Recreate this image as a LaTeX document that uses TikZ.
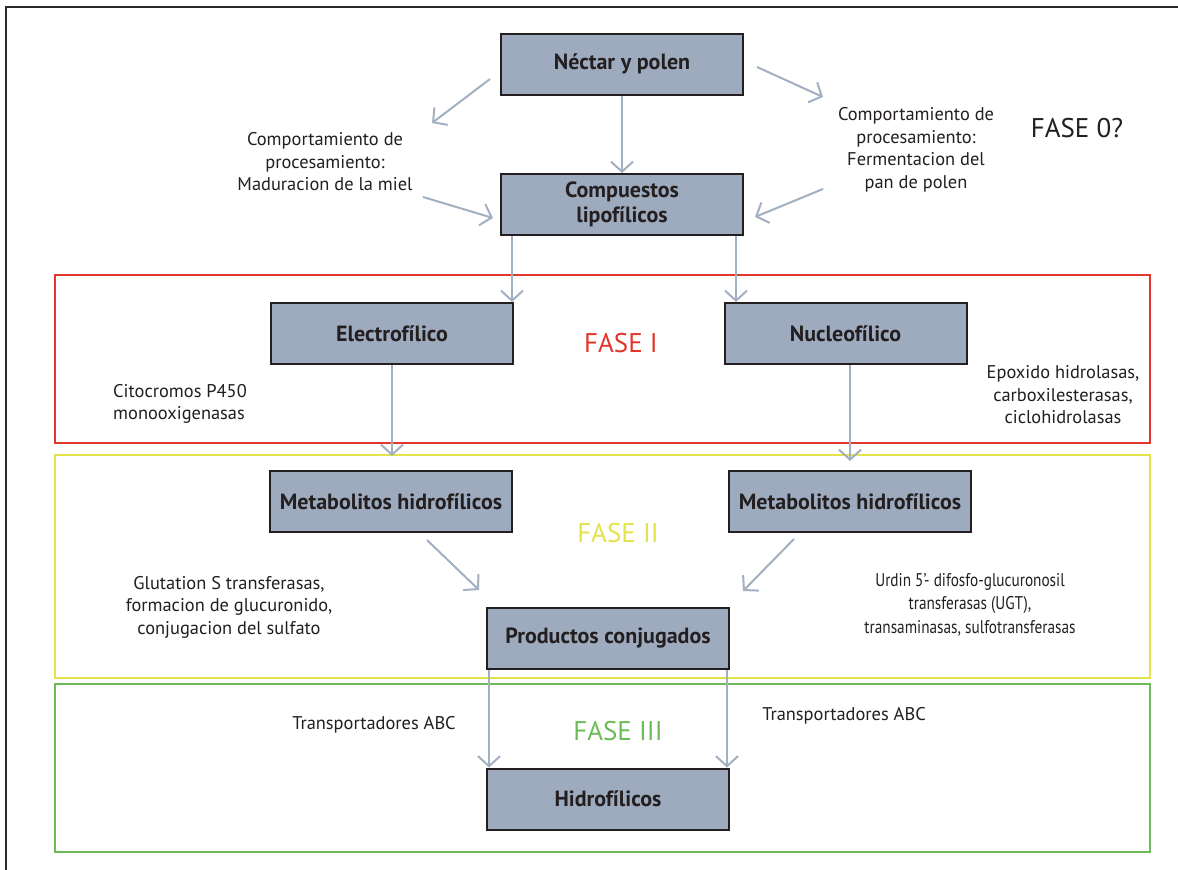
\documentclass[tikz,border=0pt]{standalone}
\usepackage{fontspec}
\setmainfont{PT Sans}
\usetikzlibrary{arrows.meta,calc}
\definecolor{boxfill}{HTML}{9EABBE}
\definecolor{boxline}{HTML}{231F20}
\definecolor{arrowc}{HTML}{A3B0C2}
\definecolor{frameline}{HTML}{2A2A2A}
\definecolor{phaseI}{HTML}{E2352B}
\definecolor{phaseII}{HTML}{E4E44A}
\definecolor{phaseIII}{HTML}{6CBB57}
\tikzset{
  box/.style={draw=boxline, fill=boxfill, line width=2pt, minimum width=242pt,
    minimum height=61pt, inner sep=0pt, align=center, text=boxline,
    font=\bfseries\fontsize{22}{25}\selectfont},
  note/.style={align=center, inner sep=0pt, text=boxline,
    font=\fontsize{18.4}{22.5}\selectfont},
  phase/.style={inner sep=0pt, font=\fontsize{27}{30}\selectfont},
  arr/.style={draw=arrowc, line width=2pt,
    -{Straight Barb[length=10pt,width=22pt,line width=2pt]}},
  phasebox/.style={line width=2.2pt}
}
\begin{document}
\begin{tikzpicture}[x=1pt,y=-1pt]
\useasboundingbox (0,0) rectangle (1178,870);
\fill[white] (0,0) rectangle (1178,870);
% outer frame
\draw[frameline, line width=2.5pt] (6,872) -- (6,7) -- (1180,7);

% phase frames
\draw[phasebox, phaseI]   (55,275) rectangle (1150,443);
\draw[phasebox, phaseII]  (55,455) rectangle (1150,678);
\draw[phasebox, phaseIII] (55,684) rectangle (1150,852);

% boxes
\node[box] (nectar) at (622,64)    {Néctar y polen};
\node[box] (comp)   at (622,204.5) {Compuestos\\lipofílicos};
\node[box] (elec)   at (392,333.5) {Electrofílico};
\node[box] (nuc)    at (845.5,333.5) {Nucleofílico};
\node[box] (metL)   at (391,501.5) {Metabolitos hidrofílicos};
\node[box] (metR)   at (850,501.5) {Metabolitos hidrofílicos};
\node[box] (prod)   at (608,638.5) {Productos conjugados};
\node[box] (hidro)  at (608,799)   {Hidrofílicos};

% labels
\node[note] (madur) at (325,162) {Comportamiento de\\procesamiento:\\Maduracion de la miel};
\node[note] (ferm)  at (916,150) {Comportamiento de\\procesamiento:\\Fermentacion del\\pan de polen};
\node[phase, text=boxline] (f0) at (1077,128) {FASE 0?};
\node[phase, text=phaseI] (f1) at (621,343) {FASE I};
\node[note, align=left, anchor=west] (cyp) at (113,404) {Citocromos P450\\monooxigenasas};
\node[note] (epox) at (1063,395) {Epoxido hidrolasas,\\carboxilesterasas,\\ciclohidrolasas};
\node[phase, text=phaseII] (f2) at (618,533) {FASE II};
\node[note] (glut) at (229,607) {Glutation S transferasas,\\formacion de glucuronido,\\conjugacion del sulfato};
\node[note] (urdin) at (970,605) {\scalebox{0.83}[1]{\begin{tabular}{@{}c@{}}Urdin 5’- difosfo-glucuronosil\\[1pt]transferasas (UGT),\\[1pt]transaminasas, sulfotransferasas\end{tabular}}};
\node[note] (abcL) at (374,725) {Transportadores ABC};
\node[note] (abcR) at (844,716) {Transportadores ABC};
\node[phase, text=phaseIII] (f3) at (618,731) {FASE III};

% free ends of the slanted arrows
\coordinate (nlA) at (490,79);  \coordinate (nlB) at (432,123);
\coordinate (nrA) at (757,67);  \coordinate (nrB) at (823,97);
\coordinate (clA) at (423,197); \coordinate (clB) at (493,218);
\coordinate (crA) at (823,189); \coordinate (crB) at (755,217);
\coordinate (mlA) at (427,540); \coordinate (mlB) at (479,590);
\coordinate (mrA) at (794,539); \coordinate (mrB) at (743,591);

% arrows
\draw[arr] (nectar.south) -- (comp.north);
\draw[arr] (nlA) -- (nlB);
\draw[arr] (nrA) -- (nrB);
\draw[arr] (clA) -- (clB);
\draw[arr] (crA) -- (crB);
\draw[arr] ([xshift=-2pt]elec.north east |- comp.south) -- ([xshift=-2pt]elec.north east);
\draw[arr] ([xshift=-8pt]comp.south east) -- ([xshift=-8pt]comp.south east |- nuc.north);
\draw[arr, shorten >=14pt] (elec.south) -- (elec.south |- metL.north);
\draw[arr, shorten >=9pt] (metR.north |- nuc.south) -- (metR.north);
\draw[arr] (mlA) -- (mlB);
\draw[arr] (mrA) -- (mrB);
\draw[arr] ([xshift=3pt]prod.south west) -- ([xshift=3pt]prod.south west |- hidro.north);
\draw[arr] ([xshift=-3pt]prod.south east) -- ([xshift=-3pt]prod.south east |- hidro.north);
\end{tikzpicture}
\end{document}
